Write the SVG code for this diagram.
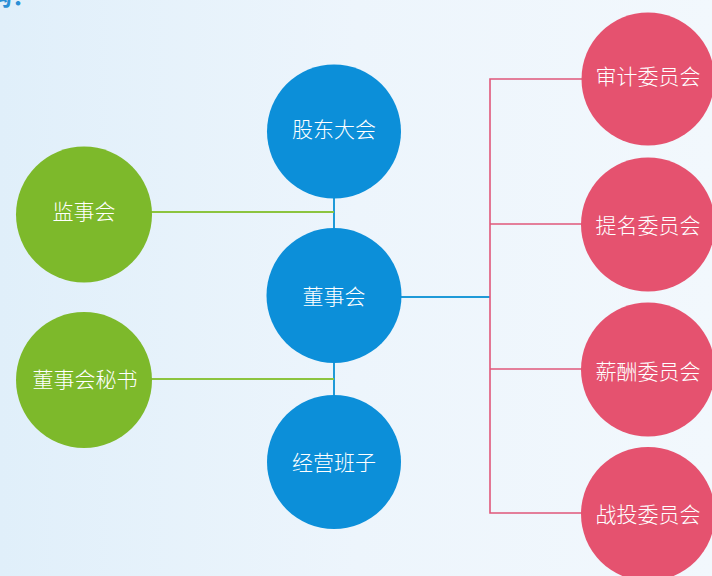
<svg xmlns="http://www.w3.org/2000/svg" width="712" height="576" viewBox="0 0 712 576">
<defs>
<linearGradient id="bg" x1="0" y1="0" x2="1" y2="0">
<stop offset="0" stop-color="#E0EFFA"/>
<stop offset="0.5" stop-color="#EDF5FC"/>
<stop offset="1" stop-color="#F2F8FD"/>
</linearGradient>
<style>
.blue{fill:#0C8FD9}
.green{fill:#7DB92B}
.red{fill:#E5526F}
.lbl{fill:#FFFFFF;font-family:"Noto Sans CJK SC","Noto Sans CJK TC",sans-serif;font-size:21px;font-weight:300;text-anchor:middle}
.lb{stroke:#1F9AD8;stroke-width:2;fill:none}
.lg{stroke:#8CC43F;stroke-width:2;fill:none}
.lr{stroke:#E0577A;stroke-width:1.6;fill:none}
</style>
</defs>
<rect width="712" height="576" fill="url(#bg)"/>
<text x="-12" y="5" font-family="Noto Sans CJK SC, sans-serif" font-size="24" font-weight="bold" fill="#2A8FD6">构：</text>
<g id="connectors">
<line class="lb" x1="334" y1="190" x2="334" y2="400"/>
<line class="lg" x1="150" y1="212" x2="334" y2="212"/>
<line class="lg" x1="150" y1="379" x2="334" y2="379"/>
<line class="lb" x1="398" y1="297" x2="490" y2="297"/>
<polyline class="lr" points="583,79 490,79 490,513 583,513"/>
<line class="lr" x1="490" y1="224" x2="583" y2="224"/>
<line class="lr" x1="490" y1="369" x2="583" y2="369"/>
</g>
<g id="n-gudong"><circle class="blue" cx="334" cy="131.5" r="67"/><text class="lbl" x="334" y="137">股东大会</text></g>
<g id="n-dongshihui"><circle class="blue" cx="334" cy="295.5" r="67.5"/><text class="lbl" x="334" y="304">董事会</text></g>
<g id="n-jingying"><circle class="blue" cx="334" cy="462" r="67"/><text class="lbl" x="334" y="469.5">经营班子</text></g>
<g id="n-jianshi"><circle class="green" cx="84" cy="214.5" r="68"/><text class="lbl" x="84" y="219">监事会</text></g>
<g id="n-mishu"><circle class="green" cx="84" cy="380" r="68"/><text class="lbl" x="85" y="386.5">董事会秘书</text></g>
<g id="n-shenji"><circle class="red" cx="648" cy="79" r="66.5"/><text class="lbl" x="648" y="84">审计委员会</text></g>
<g id="n-timing"><circle class="red" cx="648" cy="224.5" r="67"/><text class="lbl" x="648" y="232.5">提名委员会</text></g>
<g id="n-xinchou"><circle class="red" cx="648" cy="369.5" r="67"/><text class="lbl" x="648" y="378.5">薪酬委员会</text></g>
<g id="n-zhantou"><circle class="red" cx="648" cy="514" r="67"/><text class="lbl" x="648" y="521.5">战投委员会</text></g>
</svg>
